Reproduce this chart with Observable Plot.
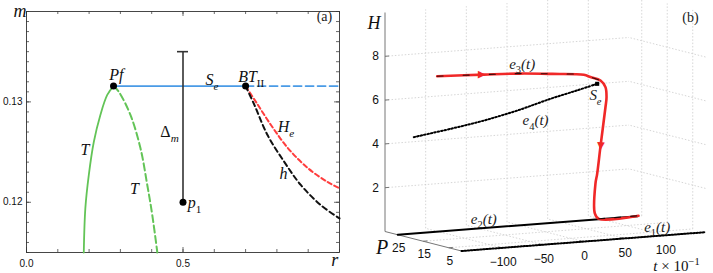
<!DOCTYPE html>
<html><head><meta charset="utf-8">
<script src="https://cdn.jsdelivr.net/npm/d3@7"></script>
<script src="https://cdn.jsdelivr.net/npm/@observablehq/plot@0.6"></script>
<style>
body{margin:0;background:#fff;}
#wrap{position:relative;width:713px;height:273px;overflow:hidden;}
#a{position:absolute;left:0;top:0;}
#b{position:absolute;left:350px;top:0;}
</style></head>
<body><div id="wrap"><div id="a"></div><div id="b"></div></div>
<script>
// ================= Panel (a) data: (r, m) =================
const T_stable_r   = [0.183, 0.188, 0.199, 0.215, 0.236, 0.258, 0.278];
const T_stable_m   = [0.1150, 0.1194, 0.1227, 0.1260, 0.1287, 0.1307, 0.13157];
const T_unstable_r = [0.278, 0.295, 0.332, 0.364, 0.386, 0.402, 0.418];
const T_unstable_m = [0.13157, 0.1310, 0.1287, 0.1254, 0.1217, 0.1187, 0.1150];
const Se_solid_r   = [0.278, 0.70];
const Se_dashed_r  = [0.70, 1.0];
const Se_m         = 0.13157;
const He_r = [0.70, 0.733, 0.781, 0.835, 0.899, 0.963, 1.0];
const He_m = [0.13157, 0.1300, 0.1277, 0.1254, 0.1234, 0.1220, 0.1214];
const h_r  = [0.70, 0.728, 0.770, 0.824, 0.877, 0.941, 1.0];
const h_m  = [0.13157, 0.1297, 0.1267, 0.1240, 0.1217, 0.1197, 0.1184];
const pts_r = [0.278, 0.70, 0.5];
const pts_m = [0.13157, 0.13157, 0.12];
const delta_r = 0.5;
const delta_m = [0.12, 0.135];
const xTickValues = [0, 0.5];
const xTickLabels = ["0.0", "0.5"];
const yTickValues = [0.12, 0.13];
const yTickLabels = ["0.12", "0.13"];
const xMinorTicks = d3.range(0, 1.0001, 0.1);
const yMinorTicks = d3.range(0.115, 0.13901, 0.001);
// annotation labels (a)
const labA_text = ["Pf", "S_{e}", "BT_{II}", "T", "T", "p_{1}", "H_{e}", "h"];
const labA_r    = [0.287, 0.593, 0.718, 0.187, 0.345, 0.537, 0.829, 0.821];
const labA_m    = [0.13265, 0.13215, 0.13245, 0.1252, 0.12134, 0.11990, 0.12748, 0.12284];
const labA_anchor = ["middle","middle","middle","middle","middle","start","middle","middle"];
const deltaLabel = "Δ_{m}", deltaLabel_r = 0.457, deltaLabel_m = 0.12698;

// ================= Panel (b) data: (t, P, H) =================
const tTicks = [-100, -50, 0, 50, 100];
const tTickLabels = ["−100", "−50", "0", "50", "100"];
const pTicks = [5, 15, 25];
const pTickLabels = ["5", "15", "25"];
const hTicks = [2, 4, 6, 8];
const hTickLabels = ["2", "4", "6", "8"];
const tLim = [-150, 150], pLim = [0, 30], hLim = [0, 10];

const e1_t = [-150, 150]; const e1_P = 0;  const e1_H = 0;
const e2_t = [-150, 145]; const e2_P = 25; const e2_H = 0;
const e4_t = [-130.3, -85.1, -44.2, -3.1, 37.8, 70.6, 95.2];
const e4_H = [4.40, 4.65, 4.91, 5.25, 5.67, 5.96, 6.19];
const e4_P = 25;
const traj_t = [-101.5, -44.2, 0, 40, 78.8, 87, 99.3, 105.4, 106.7, 105.4, 99.3, 95.2, 93.1, 92.3, 97.2, 146];
const traj_H = [7.10, 7.01, 6.93, 6.80, 6.65, 6.52, 6.33, 6.01, 5.55, 5.09, 3.33, 2.08, 1.64, 0.28, 0.02, 0.02];
const traj_P = 25;
const Se_t = 95.2, Se_H = 6.19;
const arrow_t = [-46, 99.5];
const arrow_H = [7.01, 3.3];
const arrow_rot = [91, 183];
const labB_text = ["e_{3}(t)", "S_{e}", "e_{4}(t)", "e_{2}(t)", "e_{1}(t)"];
const labB_t    = [3, 93.1, 19.4, -44.2, 90.6];
const labB_P    = [25, 25, 25, 25, 0];
const labB_H    = [7.37, 5.66, 4.73, 0.43, 0.40];

// ---------- helpers ----------
const zip = (xs, ys) => xs.map((x, i) => ({x, y: Array.isArray(ys) ? ys[i] : ys}));
const serif = "'Liberation Serif', 'DejaVu Serif', serif";
const sans = "'Liberation Sans', Arial, sans-serif";

function richify(svg) {
  const NS = "http://www.w3.org/2000/svg";
  svg.querySelectorAll("text").forEach(el => {
    const s = el.textContent;
    if (!/[_^~]\{/.test(s)) return;
    const cs = getComputedStyle(el);
    const fs = parseFloat(cs.fontSize) || 14;
    el.textContent = "";
    const re = /([_^~])\{([^}]*)\}|([^_^~]+)/g;
    let m, shift = 0;
    while ((m = re.exec(s))) {
      const ts = document.createElementNS(NS, "tspan");
      if (m[3] !== undefined) {
        ts.textContent = m[3];
        if (shift) { ts.setAttribute("dy", -shift); shift = 0; }
      } else if (m[1] === "~") {
        ts.textContent = m[2];
        ts.setAttribute("font-style", "italic");
        if (shift) { ts.setAttribute("dy", -shift); shift = 0; }
      } else {
        ts.textContent = m[2];
        ts.setAttribute("font-size", (fs * 0.7).toFixed(1));
        const lower = /^[a-z]+$/.test(m[2]);
        ts.setAttribute("font-style", lower ? "italic" : "normal");
        const d = m[1] === "_" ? fs * 0.28 : -fs * 0.4;
        ts.setAttribute("dy", (d - shift).toFixed(2));
        shift = d;
      }
      el.appendChild(ts);
    }
  });
}

// ================= Panel (a) =================
const WA = 350, HA = 273, mL = 26, mR = 11, mT = 11, mB = 21;
const innerW = WA - mL - mR, innerH = HA - mT - mB;
const tickCol = "#444";
const green = "#63c457", blue = "#4a9be6", red = "#ff3d3d";

const plotA = Plot.plot({
  width: WA, height: HA, marginLeft: mL, marginRight: mR, marginTop: mT, marginBottom: mB,
  x: {domain: [0, 1], axis: null},
  y: {domain: [0.115, 0.139], axis: null},
  style: {fontFamily: sans, fontSize: "10px", background: "white", overflow: "visible"},
  marks: [
    Plot.ruleX(xMinorTicks, {insetTop: innerH - 3, stroke: tickCol, strokeWidth: 0.8}),
    Plot.ruleX(xMinorTicks, {insetBottom: innerH - 3, stroke: tickCol, strokeWidth: 0.8}),
    Plot.ruleY(yMinorTicks, {insetRight: innerW - 3, stroke: tickCol, strokeWidth: 0.8}),
    Plot.ruleY(yMinorTicks, {insetLeft: innerW - 3, stroke: tickCol, strokeWidth: 0.8}),
    Plot.ruleX(xTickValues, {insetTop: innerH - 5, stroke: tickCol, strokeWidth: 0.8}),
    Plot.ruleX(xTickValues, {insetBottom: innerH - 5, stroke: tickCol, strokeWidth: 0.8}),
    Plot.ruleY(yTickValues, {insetRight: innerW - 5, stroke: tickCol, strokeWidth: 0.8}),
    Plot.ruleY(yTickValues, {insetLeft: innerW - 5, stroke: tickCol, strokeWidth: 0.8}),
    Plot.frame({stroke: "#333", strokeWidth: 0.9}),
    Plot.text(xTickValues, {x: d => d, frameAnchor: "bottom", dy: 14, text: (d, i) => xTickLabels[i], fontSize: 10, fill: "#111"}),
    Plot.text(yTickValues, {y: d => d, frameAnchor: "left", dx: -4, textAnchor: "end", text: (d, i) => yTickLabels[i], fontSize: 10, fill: "#111"}),
    Plot.text(["r"], {x: 0.985, frameAnchor: "bottom", dy: 13, text: d => d, fontFamily: serif, fontStyle: "italic", fontSize: 18, fill: "#111"}),
    Plot.text(["m"], {y: 0.139, frameAnchor: "left", dx: -13, text: d => d, fontFamily: serif, fontStyle: "italic", fontSize: 18, fill: "#111"}),
    Plot.text(["(a)"], {x: 0.952, y: 0.1385, text: d => d, fontFamily: serif, fontSize: 14, fill: "#222"}),
    Plot.line(zip(T_stable_r, T_stable_m), {x: "x", y: "y", stroke: green, strokeWidth: 1.8, curve: "catmull-rom"}),
    Plot.line(zip(T_unstable_r, T_unstable_m), {x: "x", y: "y", stroke: green, strokeWidth: 2, strokeDasharray: "7,3.5", curve: "catmull-rom"}),
    Plot.line(zip(Se_solid_r, Se_m), {x: "x", y: "y", stroke: blue, strokeWidth: 1.8}),
    Plot.line(zip(Se_dashed_r, Se_m), {x: "x", y: "y", stroke: blue, strokeWidth: 1.8, strokeDasharray: "8,4"}),
    Plot.line(zip(He_r, He_m), {x: "x", y: "y", stroke: red, strokeWidth: 2, strokeDasharray: "4.5,3", curve: "catmull-rom"}),
    Plot.line(zip(h_r, h_m), {x: "x", y: "y", stroke: "#111", strokeWidth: 2, strokeDasharray: "5,3.5", curve: "catmull-rom"}),
    Plot.ruleX([delta_r], {y1: delta_m[0], y2: delta_m[1], stroke: "#333", strokeWidth: 1.6}),
    Plot.ruleY([delta_m[1]], {x1: delta_r, x2: delta_r, insetLeft: -5.5, insetRight: -5.5, stroke: "#333", strokeWidth: 1.6}),
    Plot.dot(zip(pts_r, pts_m), {x: "x", y: "y", r: 3.5, fill: "#000", stroke: "none"}),
    Plot.text(labA_text, {x: (d, i) => labA_r[i], y: (d, i) => labA_m[i], text: d => d, textAnchor: (d, i) => labA_anchor[i],
      fontFamily: serif, fontStyle: "italic", fontSize: 16, fill: "#111"}),
    Plot.text([deltaLabel], {x: deltaLabel_r, y: deltaLabel_m, text: d => d, fontFamily: serif, fontSize: 16, fill: "#111"})
  ]
});
document.getElementById("a").appendChild(plotA);
richify(plotA);

// ================= Panel (b) =================
// orthographic 3-D view: screen offsets per unit of t, P and H
const view = {tx: 0.8133, ty: 0.0627, px: -2.55, py: 0.65, hy: 21.9};
const proj = (t, P, H) => ({u: view.tx * (t - tLim[0]) + view.px * P, v: view.ty * (t - tLim[0]) + view.py * P + view.hy * H});
const seg = (a, b) => { const p = proj(...a), q = proj(...b); return {u1: p.u, v1: p.v, u2: q.u, v2: q.v}; };

const grid = [];
for (const t of tTicks) { grid.push(seg([t, pLim[1], hLim[0]], [t, pLim[1], hLim[1]])); grid.push(seg([t, pLim[0], hLim[0]], [t, pLim[1], hLim[0]])); }
for (const h of hTicks) { grid.push(seg([tLim[0], pLim[1], h], [tLim[1], pLim[1], h])); grid.push(seg([tLim[1], pLim[0], h], [tLim[1], pLim[1], h])); }
for (const p of pTicks) { grid.push(seg([tLim[1], p, hLim[0]], [tLim[1], p, hLim[1]])); grid.push(seg([tLim[0], p, hLim[0]], [tLim[1], p, hLim[0]])); }

const axes = [
  seg([tLim[0], pLim[1], hLim[0]], [tLim[0], pLim[1], hLim[1]]),
  seg([tLim[0], pLim[0], hLim[0]], [tLim[0], pLim[1], hLim[0]]),
  seg([tLim[0], pLim[0], hLim[0]], [tLim[1], pLim[0], hLim[0]])
];
const ticks = [
  ...hTicks.map(h => seg([tLim[0], pLim[1], h], [tLim[0] + 5, pLim[1], h])),
  ...pTicks.map(p => seg([tLim[0], p, hLim[0]], [tLim[0] + 5, p, hLim[0]])),
  ...tTicks.map(t => seg([t, pLim[0], hLim[0]], [t, pLim[0] + 1.5, hLim[0]]))
];

const e1 = e1_t.map(t => proj(t, e1_P, e1_H));
const e2 = e2_t.map(t => proj(t, e2_P, e2_H));
const e4 = e4_t.map((t, i) => proj(t, e4_P, e4_H[i]));
const traj = traj_t.map((t, i) => proj(t, traj_P, traj_H[i]));
const e3part = traj.slice(0, 7);
const e2part = traj.slice(14);
const arrows = arrow_t.map((t, i) => ({...proj(t, traj_P, arrow_H[i]), rot: arrow_rot[i]}));
const SeP = [proj(Se_t, traj_P, Se_H)];
const labB = labB_text.map((s, i) => ({...proj(labB_t[i], labB_P[i], labB_H[i]), s}));
const hLab = hTicks.map((h, i) => ({...proj(tLim[0], pLim[1], h), s: hTickLabels[i]}));
const pLab = pTicks.map((p, i) => ({...proj(tLim[0], p, hLim[0]), s: pTickLabels[i]}));
const tLab = tTicks.map((t, i) => ({...proj(t, pLim[0], hLim[0]), s: tTickLabels[i]}));
const cornerTop = [proj(tLim[0], pLim[1], hLim[1])];
const cornerBack = [proj(tLim[0], pLim[1], hLim[0])];
const cornerRight = [proj(tLim[1], pLim[0], hLim[0])];
const cornerRightTop = [proj(tLim[1], pLim[0], hLim[1])];

const trajRed = "#f02828";
const plotB = Plot.plot({
  width: 363, height: 273, margin: 0,
  x: {domain: [-111, 252], axis: null},
  y: {domain: [-22.5, 250.5], axis: null},
  style: {fontFamily: sans, fontSize: "11px", background: "white", overflow: "visible"},
  marks: [
    Plot.link(grid, {x1: "u1", y1: "v1", x2: "u2", y2: "v2", stroke: "#cccccc", strokeWidth: 0.8, strokeDasharray: "1.5,1.8"}),
    Plot.link(axes, {x1: "u1", y1: "v1", x2: "u2", y2: "v2", stroke: "#777", strokeWidth: 1}),
    Plot.link(ticks, {x1: "u1", y1: "v1", x2: "u2", y2: "v2", stroke: "#777", strokeWidth: 1}),
    Plot.text(hLab, {x: "u", y: "v", text: "s", textAnchor: "end", dx: -6, fontSize: 12, fill: "#111"}),
    Plot.text(pLab, {x: "u", y: "v", text: "s", dy: 13, dx: 1, fontSize: 12, fill: "#111"}),
    Plot.text(tLab, {x: "u", y: "v", text: "s", dy: 14.5, dx: 1, fontSize: 12, fill: "#111"}),
    Plot.line(e1, {x: "u", y: "v", stroke: "#000", strokeWidth: 2, strokeDasharray: "1.5,1.6"}),
    Plot.line(e2, {x: "u", y: "v", stroke: "#000", strokeWidth: 2}),
    Plot.line(e4, {x: "u", y: "v", stroke: "#000", strokeWidth: 2, strokeDasharray: "1.5,2", curve: "catmull-rom"}),
    Plot.line(traj, {x: "u", y: "v", stroke: trajRed, strokeWidth: 2.6, curve: "catmull-rom"}),
    Plot.line(e3part, {x: "u", y: "v", stroke: "#000", strokeWidth: 1.1, strokeDasharray: "6,20", curve: "catmull-rom", strokeOpacity: 0.8}),
    Plot.line(e2part, {x: "u", y: "v", stroke: "#000", strokeWidth: 1.1, strokeDasharray: "6,10", strokeOpacity: 0.8}),
    Plot.text(arrows, {x: "u", y: "v", text: () => "▲", rotate: "rot", fill: trajRed, fontSize: 10, fontFamily: "'DejaVu Sans', sans-serif"}),
    Plot.dot(SeP, {x: "u", y: "v", symbol: "square", r: 2.3, fill: "#000"}),
    Plot.text(labB, {x: "u", y: "v", text: "s", fontFamily: serif, fontStyle: "italic", fontSize: 15, fill: "#222"}),
    Plot.text(cornerTop, {x: "u", y: "v", text: () => "H", dx: -11, dy: 11, fontFamily: serif, fontStyle: "italic", fontSize: 18, fill: "#111"}),
    Plot.text(cornerBack, {x: "u", y: "v", text: () => "P", dx: -3, dy: 16, fontFamily: serif, fontStyle: "italic", fontSize: 20, fill: "#111"}),
    Plot.text(cornerRight, {x: "u", y: "v", text: () => "~{t} × 10^{−1}", dx: -29, dy: 33.5, fontFamily: serif, fontSize: 15, fill: "#111"}),
    Plot.text(cornerRightTop, {x: "u", y: "v", text: () => "(b)", dx: -15, dy: 4, fontFamily: serif, fontSize: 14, fill: "#222"})
  ]
});
document.getElementById("b").appendChild(plotB);
richify(plotB);
</script>
</body></html>
